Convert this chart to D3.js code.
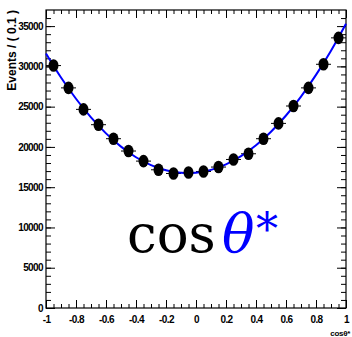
<!DOCTYPE html>
<meta charset="utf-8">
<head>
  <style>
    body { margin: 0; background: #fff; }
    .axis text { font-family: "Liberation Sans", Arial, sans-serif; font-weight: bold; font-size: 10px; letter-spacing: -0.6px; }
    .title { font-family: "Liberation Sans", Arial, sans-serif; font-weight: bold; }
    .big { font-family: "DejaVu Serif", serif; font-size: 56px; }
  </style>
  <script src="https://cdnjs.cloudflare.com/ajax/libs/d3/7.8.5/d3.min.js"></script>
</head>
<body>
<div id="chart"></div>
<script>
  // *** data: 20 bins of cos(theta*)
  var binCenters = [-0.95,-0.85,-0.75,-0.65,-0.55,-0.45,-0.35,-0.25,-0.15,-0.05,
                     0.05, 0.15, 0.25, 0.35, 0.45, 0.55, 0.65, 0.75, 0.85, 0.95];
  var events = [30100,27330,24660,22760,21020,19490,18240,17160,16700,16830,
                16950,17500,18440,19150,21020,22920,25080,27330,30260,33540];
  // *** fitted curve (blue)
  var fitX = [-1,-0.9,-0.8,-0.7,-0.6,-0.5,-0.4,-0.3,-0.2,-0.1,0,0.1,0.2,0.3,0.4,0.5,0.6,0.7,0.8,0.9,1];
  var fitY = [31600,28620,25980,23660,21680,20040,18720,17740,17100,16780,16800,
              17150,17840,18850,20200,21890,23900,26250,28940,31950,35300];
  var xTicks = [-1,-0.8,-0.6,-0.4,-0.2,0,0.2,0.4,0.6,0.8,1];
  var yTicks = [0,5000,10000,15000,20000,25000,30000,35000];

  var W = 352, H = 337;
  var pLeft = 46, pRight = 346, pTop = 10, pBottom = 308;

  var svg = d3.select("#chart").append("svg")
    .attr("width", W).attr("height", H);

  var x = d3.scaleLinear().domain([-1, 1]).range([pLeft, pRight]);
  var y = d3.scaleLinear().domain([0, 37000]).range([pBottom, pTop]);

  var xMinor = d3.range(0, 41).map(function(i) { return -1 + i * 0.05; });
  var yMinor = d3.range(0, 37).map(function(i) { return i * 1000; });

  function noDomain(g) { g.select(".domain").remove(); }

  // x axis bottom
  svg.append("g").attr("class", "axis")
    .attr("transform", "translate(0," + pBottom + ")")
    .call(d3.axisBottom(x).tickValues(xMinor).tickSize(-4).tickFormat(""))
    .call(noDomain);
  svg.append("g").attr("class", "axis")
    .attr("transform", "translate(0," + pBottom + ")")
    .call(d3.axisBottom(x).tickValues(xTicks).tickSize(-8).tickPadding(8)
      .tickFormat(function(d) { return String(+d.toFixed(1)); }))
    .call(noDomain);
  // x axis top
  svg.append("g").attr("class", "axis")
    .attr("transform", "translate(0," + pTop + ")")
    .call(d3.axisTop(x).tickValues(xMinor).tickSize(-4).tickFormat(""))
    .call(noDomain);
  svg.append("g").attr("class", "axis")
    .attr("transform", "translate(0," + pTop + ")")
    .call(d3.axisTop(x).tickValues(xTicks).tickSize(-8).tickFormat(""))
    .call(noDomain);

  // y axis left
  svg.append("g").attr("class", "axis")
    .attr("transform", "translate(" + pLeft + ",0)")
    .call(d3.axisLeft(y).tickValues(yMinor).tickSize(-5).tickFormat(""))
    .call(noDomain);
  svg.append("g").attr("class", "axis")
    .attr("transform", "translate(" + pLeft + ",0)")
    .call(d3.axisLeft(y).tickValues(yTicks).tickSize(-9).tickPadding(3).tickFormat(d3.format("d")))
    .call(noDomain);
  // y axis right
  svg.append("g").attr("class", "axis")
    .attr("transform", "translate(" + pRight + ",0)")
    .call(d3.axisRight(y).tickValues(yMinor).tickSize(-5).tickFormat(""))
    .call(noDomain);
  svg.append("g").attr("class", "axis")
    .attr("transform", "translate(" + pRight + ",0)")
    .call(d3.axisRight(y).tickValues(yTicks).tickSize(-9).tickFormat(""))
    .call(noDomain);

  // frame
  svg.append("rect")
    .attr("x", pLeft).attr("y", pTop)
    .attr("width", pRight - pLeft).attr("height", pBottom - pTop)
    .attr("fill", "none").attr("stroke", "#000").attr("stroke-width", 1.2);

  // axis titles
  svg.append("text").attr("class", "title")
    .attr("transform", "translate(16," + pTop + ") rotate(-90)")
    .attr("text-anchor", "end")
    .style("font-size", "12px")
    .text("Events / ( 0.1 )");
  svg.append("text").attr("class", "title")
    .attr("x", 350).attr("y", 336)
    .attr("text-anchor", "end")
    .style("font-size", "8px")
    .style("letter-spacing", "-0.3px")
    .text("cos\u03b8*");

  // error bars + markers
  var pts = binCenters.map(function(c, i) { return { x: c, y: events[i] }; });
  svg.append("g").selectAll("line")
    .data(pts).enter().append("line")
    .attr("x1", function(d) { return x(d.x - 0.05); })
    .attr("x2", function(d) { return x(d.x + 0.05); })
    .attr("y1", function(d) { return y(d.y); })
    .attr("y2", function(d) { return y(d.y); })
    .attr("stroke", "#000").attr("stroke-width", 1);

  // fit curve
  var line = d3.line()
    .x(function(d, i) { return x(fitX[i]); })
    .y(function(d) { return y(d); })
    .curve(d3.curveCatmullRom);
  svg.append("path")
    .datum(fitY)
    .attr("d", line)
    .attr("fill", "none").attr("stroke", "#0000ff").attr("stroke-width", 2);

  svg.append("g").selectAll("ellipse")
    .data(pts).enter().append("ellipse")
    .attr("cx", function(d) { return x(d.x); })
    .attr("cy", function(d) { return y(d.y); })
    .attr("rx", 5).attr("ry", 6.3)
    .attr("fill", "#000");

  // big label
  var lab = svg.append("text").attr("class", "big")
    .attr("x", 127).attr("y", 252);
  lab.append("tspan").attr("fill", "#000").style("font-size", "53px").text("cos");
  lab.append("tspan").attr("x", 222).attr("fill", "#0000ff")
    .style("font-style", "italic").style("font-size", "54px").text("\u03b8");
  lab.append("tspan").attr("x", 256).attr("dy", -7).attr("fill", "#0000ff")
    .style("font-size", "44px").text("*");
</script>
</body>
